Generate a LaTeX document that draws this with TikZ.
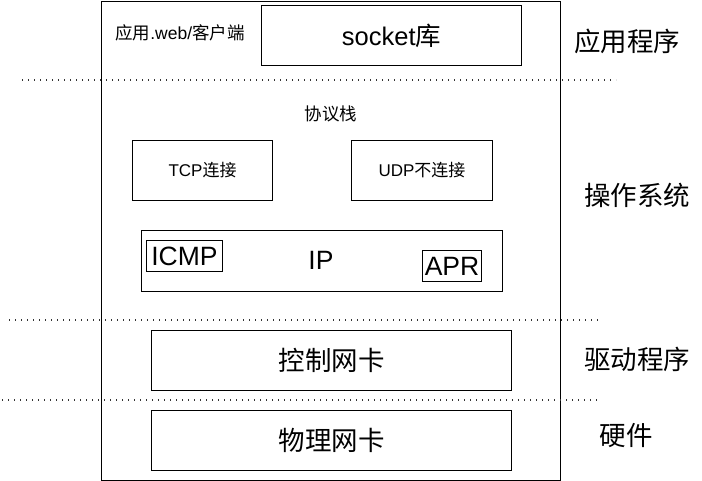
\documentclass[tikz,border=0pt]{standalone}
\usepackage{fontspec}
\setmainfont{Liberation Sans}
\newfontfamily\cjk{Noto Sans CJK SC}
\begin{document}
\begin{tikzpicture}[x=1pt,y=-1pt,
  box/.style={draw, line width=1pt, inner sep=0pt},
  sep/.style={line width=1.2pt, dash pattern=on 1.2pt off 4.8pt, black!80},
  big/.style={inner sep=0pt, font=\fontsize{26.5}{30}\selectfont},
  small/.style={inner sep=0pt, font=\fontsize{17}{20}\selectfont},
  lab/.style={inner sep=0pt, font=\fontsize{26.5}{30}\selectfont\cjk}]
\useasboundingbox (0,0) rectangle (702,481);
% outer box
\node[box, minimum width=459pt, minimum height=479pt, anchor=north west] (outer) at (101,1) {};
% top layer
\node[box, minimum width=260pt, minimum height=60pt, anchor=north west] (socket) at (261,5) {};
\node[big, font=\fontsize{25.5}{30}\selectfont] (sockett) at (socket.center) {socket{\cjk 库}};
\node[inner sep=0pt, font=\fontsize{17.5}{20}\selectfont] (app) at (180,33) {{\cjk 应用}.web/{\cjk 客户端}};
\node[lab] (l1) at (627,41) {应用程序};
% separators
\coordinate (d1a) at (22,80); \coordinate (d1b) at (616,80);
\draw[sep] (d1a) -- (d1b);
\coordinate (d2a) at (9,320); \coordinate (d2b) at (600,320);
\draw[sep] (d2a) -- (d2b);
\coordinate (d3a) at (2,400); \coordinate (d3b) at (598,400);
\draw[sep] (d3a) -- (d3b);
% protocol stack
\node[small, font=\fontsize{17.5}{20}\selectfont\cjk] (stack) at (331,114) {协议栈};
\node[box, minimum width=140pt, minimum height=60pt, anchor=north west] (tcp) at (132,140) {};
\node[small] at (tcp.center) {TCP{\cjk 连接}};
\node[box, minimum width=141pt, minimum height=60pt, anchor=north west] (udp) at (351,140) {};
\node[small] at (udp.center) {UDP{\cjk 不连接}};
\node[box, minimum width=361pt, minimum height=61pt, anchor=north west] (ip) at (141,230) {};
\node[big] (ipt) at (321,260) {IP};
\node[box, minimum width=76pt, minimum height=31pt, anchor=north west] (icmp) at (146,240) {};
\node[big] at (icmp.center) {ICMP};
\node[box, minimum width=59pt, minimum height=31pt, anchor=north west] (apr) at (422,250) {};
\node[big] at (apr.center) {APR};
\node[lab] (l2) at (637,195) {操作系统};
% driver
\node[box, minimum width=360pt, minimum height=60pt, anchor=north west] (ctrl) at (151,330) {};
\node[lab] at (ctrl.center) {控制网卡};
\node[lab] (l3) at (637,359) {驱动程序};
% hardware
\node[box, minimum width=360pt, minimum height=60pt, anchor=north west] (phys) at (151,410) {};
\node[lab] at (phys.center) {物理网卡};
\node[lab] (l4) at (626,436) {硬件};
\end{tikzpicture}
\end{document}
